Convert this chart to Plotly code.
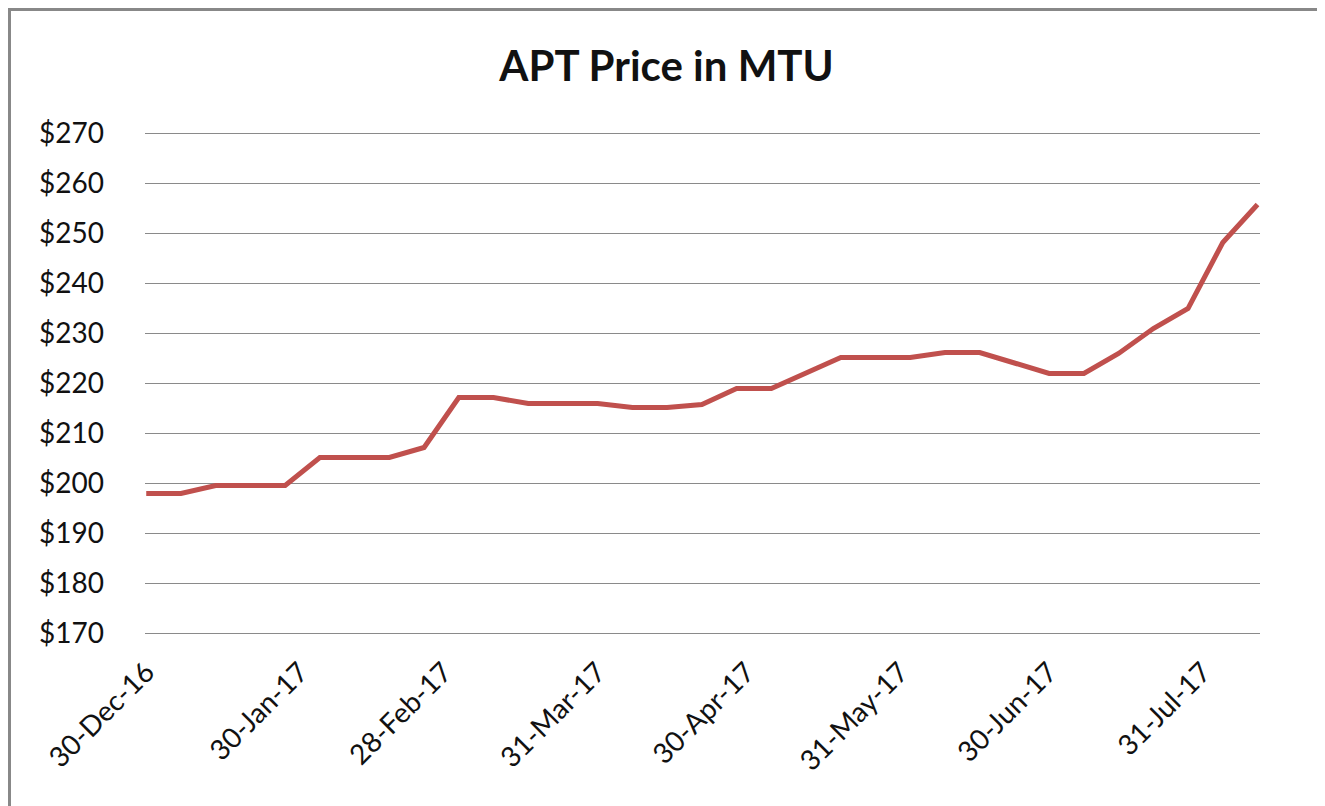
import plotly.graph_objects as go

dates = ["2016-12-30", "2017-01-06", "2017-01-13", "2017-01-20", "2017-01-27",
         "2017-02-03", "2017-02-10", "2017-02-17", "2017-02-24", "2017-03-03",
         "2017-03-10", "2017-03-17", "2017-03-24", "2017-03-31", "2017-04-07",
         "2017-04-14", "2017-04-21", "2017-04-28", "2017-05-05", "2017-05-12",
         "2017-05-19", "2017-05-26", "2017-06-02", "2017-06-09", "2017-06-16",
         "2017-06-23", "2017-06-30", "2017-07-07", "2017-07-14", "2017-07-21",
         "2017-07-28", "2017-08-04", "2017-08-11"]
prices = [198, 198, 199.6, 199.6, 199.6, 205.2, 205.2, 205.2, 207.2, 217.2,
          217.2, 216, 216, 216, 215.2, 215.2, 215.8, 219, 219, 222,
          225.2, 225.2, 225.2, 226.2, 226.2, 224.1, 222, 222, 226, 231,
          235, 248.2, 255.8]

tick_dates = ["2016-12-30", "2017-01-30", "2017-02-28", "2017-03-31",
              "2017-04-30", "2017-05-31", "2017-06-30", "2017-07-31"]
tick_labels = ["30-Dec-16", "30-Jan-17", "28-Feb-17", "31-Mar-17",
               "30-Apr-17", "31-May-17", "30-Jun-17", "31-Jul-17"]
y_ticks = [170, 180, 190, 200, 210, 220, 230, 240, 250, 260, 270]
y_labels = ["$170", "$180", "$190", "$200", "$210", "$220", "$230",
            "$240", "$250", "$260", "$270"]

FONT = "Lato, 'Open Sans', sans-serif"

W, H = 1317, 798
L, R, T, B = 137, 65, 123, 170
PW, PH = W - L - R, H - T - B

fig = go.Figure()
fig.add_trace(go.Scatter(
    x=dates, y=prices, mode="lines",
    line=dict(color="#C0504D", width=5, shape="linear"),
    hoverinfo="x+y", showlegend=False,
))

fig.update_layout(
    width=W, height=H,
    margin=dict(l=L, r=R, t=T, b=B, autoexpand=False),
    paper_bgcolor="white", plot_bgcolor="white",
    font=dict(family=FONT, color="#111111", size=28),
    title=dict(text="<b>APT Price in MTU</b>", x=0.5, xanchor="center",
               y=1 - 58 / H, yanchor="middle", yref="container",
               font=dict(family=FONT, size=42, color="#111111")),
    xaxis=dict(
        type="date",
        range=["2016-12-29 18:00", "2017-08-11 12:00"],
        tickvals=tick_dates, ticktext=tick_labels, tickangle=-45,
        showgrid=False, zeroline=False, showline=False, ticks="",
        ticklabelstandoff=13, tickfont=dict(size=28),
    ),
    yaxis=dict(
        range=[169.5, 270.5], tickvals=y_ticks, ticktext=y_labels,
        showgrid=True, gridcolor="#8a8a8a", gridwidth=1,
        zeroline=False, showline=False, ticks="",
        ticklabelstandoff=40, tickfont=dict(size=28),
    ),
)

# outer chart border
fig.add_shape(type="rect", xref="paper", yref="paper",
              x0=(1.5 - L) / PW, x1=(1315 - L) / PW,
              y0=(T + PH - 820) / PH, y1=(T + PH - 1.5) / PH,
              line=dict(color="#888888", width=3), fillcolor="rgba(0,0,0,0)",
              layer="below")

fig.write_html("out.html")
